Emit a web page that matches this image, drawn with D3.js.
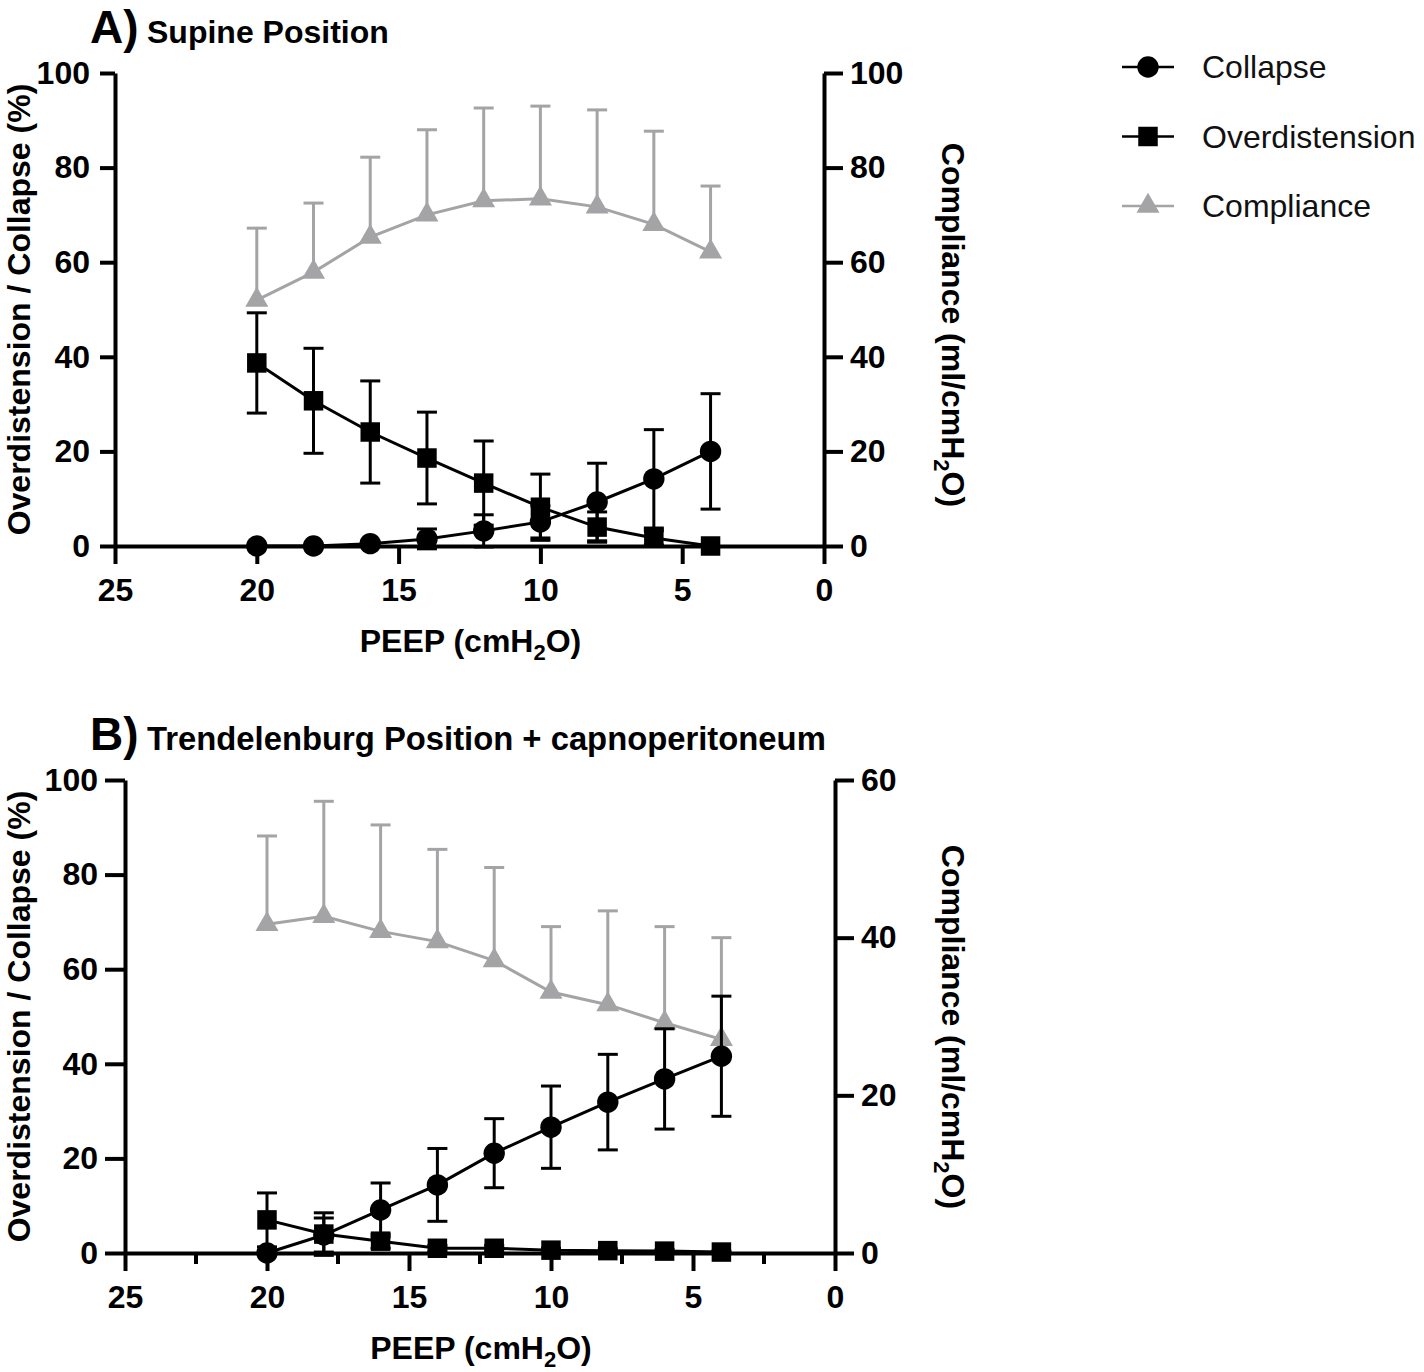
<!DOCTYPE html>
<html>
<head>
<meta charset="utf-8">
<script src="https://cdn.jsdelivr.net/npm/d3@7"></script>
<style>
  body { margin: 0; background: #fff; }
</style>
</head>
<body>
<svg id="chart" width="1424" height="1372"></svg>
<script>
// PEEP steps (cmH2O)
var peep = [20, 18, 16, 14, 12, 10, 8, 6, 4];

// Panel A - supine
var collapseA = [0, 0, 0.5, 1.5, 3.2, 5.1, 9.3, 14.2, 20.0];
var collapseSdA = [0, 0, 0.5, 2.1, 3.4, 3.4, 8.2, 10.4, 12.2];
var overA = [38.7, 30.7, 24.1, 18.6, 13.3, 8.2, 4.0, 1.7, 0];
var overSdA = [10.6, 11.1, 10.8, 9.7, 8.9, 7.0, 3.2, 1.5, 0];
var complA = [52.0, 57.9, 65.3, 70.0, 73.0, 73.4, 71.7, 68.0, 62.2];
var complSdA = [15.2, 14.6, 16.9, 18.0, 19.6, 19.6, 20.5, 19.7, 13.9];

// Panel B - Trendelenburg + capnoperitoneum
var collapseB = [0, 3.8, 9.1, 14.4, 21.1, 26.6, 31.9, 36.8, 41.6];
var collapseSdB = [0, 3.6, 5.7, 7.7, 7.3, 8.7, 10.1, 10.6, 12.7];
var overB = [7.0, 4.0, 2.5, 1.0, 1.0, 0.6, 0.5, 0.4, 0.2];
var overSdB = [5.7, 4.5, 1.5, 0.6, 0.6, 0.4, 0.4, 0.3, 0.2];
var complB = [41.7, 42.7, 40.8, 39.5, 37.1, 33.1, 31.5, 29.2, 27.1];
var complSdB = [11.2, 14.6, 13.5, 11.7, 11.8, 8.3, 11.9, 12.2, 12.9];

var xTicks = [25, 20, 15, 10, 5, 0];
var xMinorTicks = [22.5, 17.5, 12.5, 7.5, 2.5];
var leftTicks = [0, 20, 40, 60, 80, 100];
var rightTicksA = [0, 20, 40, 60, 80, 100];
var rightTicksB = [0, 20, 40, 60];

var seriesNames = ["Collapse", "Overdistension", "Compliance"];

var FONT = "'Liberation Sans', Arial, Helvetica, sans-serif";
var GRAY = "#a4a4a7";

var svg = d3.select("#chart")
  .style("font-family", FONT);

function styleAxis(sel) {
  sel.select(".domain").attr("stroke", "#000").attr("stroke-width", 4);
  sel.selectAll(".tick line").attr("stroke", "#000").attr("stroke-width", 4);
  sel.selectAll(".tick text")
    .attr("fill", "#000")
    .style("font-family", FONT)
    .style("font-size", "32px")
    .style("font-weight", "bold");
}

// text with a subscript "2" inside "cmH2O"
function addH2O(t, before) {
  t.append("tspan").text(before + "cmH");
  t.append("tspan").text("2").style("font-size", "22px").attr("dy", 8);
  t.append("tspan").text("O)").attr("dy", -8);
}

function drawPanel(o) {
  var g = svg.append("g");

  var x = d3.scaleLinear().domain([25, 0]).range(o.xr);
  var yL = d3.scaleLinear().domain([0, 100]).range(o.yr);
  var yR = d3.scaleLinear().domain([0, o.rMax]).range(o.yr);

  // minor x ticks (panel B only)
  if (o.minor) {
    g.append("g")
      .attr("transform", "translate(0," + o.yr[0] + ")")
      .selectAll("line")
      .data(xMinorTicks)
      .enter()
      .append("line")
      .attr("x1", d => x(d)).attr("x2", d => x(d))
      .attr("y1", 0).attr("y2", 11)
      .attr("stroke", "#000").attr("stroke-width", 4);
  }

  g.append("g")
    .attr("transform", "translate(0," + o.yr[0] + ")")
    .call(d3.axisBottom(x).tickValues(xTicks).tickSize(18).tickSizeOuter(0).tickPadding(14).tickFormat(d3.format("d")))
    .call(styleAxis);

  g.append("g")
    .attr("transform", "translate(" + o.xr[0] + ",0)")
    .call(d3.axisLeft(yL).tickValues(leftTicks).tickSize(o.lTick).tickSizeOuter(0).tickPadding(o.lPad))
    .call(styleAxis);

  g.append("g")
    .attr("transform", "translate(" + o.xr[1] + ",0)")
    .call(d3.axisRight(yR).tickValues(o.rTicks).tickSize(19).tickSizeOuter(0).tickPadding(7))
    .call(styleAxis);

  // titles
  g.append("text")
    .attr("x", 90).attr("y", o.titleY)
    .style("font-size", "46px").style("font-weight", "bold")
    .text(o.letter);
  g.append("text")
    .attr("x", 147).attr("y", o.titleY)
    .style("font-size", o.titleSize + "px").style("font-weight", "bold")
    .text(o.title);

  // axis titles
  g.append("text")
    .attr("transform", "translate(30," + (o.yr[0] + o.yr[1]) / 2 + ") rotate(-90)")
    .attr("text-anchor", "middle")
    .style("font-size", "32px").style("font-weight", "bold")
    .text("Overdistension / Collapse (%)");

  var rt = g.append("text")
    .attr("transform", "translate(942," + o.rTitleY + ") rotate(90)")
    .attr("text-anchor", "middle")
    .style("font-size", "32px").style("font-weight", "bold");
  addH2O(rt, "Compliance (ml/");

  var xt = g.append("text")
    .attr("x", (o.xr[0] + o.xr[1]) / 2 + 1).attr("y", o.xTitleY)
    .attr("text-anchor", "middle")
    .style("font-size", "32px").style("font-weight", "bold");
  addH2O(xt, "PEEP (");

  // series
  var series = [
    { vals: o.compl, sd: o.complSd, y: yR, color: GRAY, sym: d3.symbolTriangle, size: 230, both: false },
    { vals: o.over, sd: o.overSd, y: yL, color: "#000", sym: d3.symbolSquare, size: 380, both: true },
    { vals: o.collapse, sd: o.collapseSd, y: yL, color: "#000", sym: d3.symbolCircle, size: 360, both: true }
  ];

  series.forEach(function (s) {
    var pts = peep.map((p, i) => ({ p: p, v: s.vals[i], sd: s.sd[i] }));
    var sg = g.append("g");

    // error bars
    var eb = sg.selectAll(".eb").data(pts.filter(d => d.sd > 0)).enter().append("g");
    eb.append("line")
      .attr("x1", d => x(d.p)).attr("x2", d => x(d.p))
      .attr("y1", d => s.y(s.both ? d.v - d.sd : d.v))
      .attr("y2", d => s.y(d.v + d.sd))
      .attr("stroke", s.color).attr("stroke-width", 3);
    eb.append("line")
      .attr("x1", d => x(d.p) - 10).attr("x2", d => x(d.p) + 10)
      .attr("y1", d => s.y(d.v + d.sd)).attr("y2", d => s.y(d.v + d.sd))
      .attr("stroke", s.color).attr("stroke-width", 3);
    if (s.both) {
      eb.append("line")
        .attr("x1", d => x(d.p) - 10).attr("x2", d => x(d.p) + 10)
        .attr("y1", d => s.y(d.v - d.sd)).attr("y2", d => s.y(d.v - d.sd))
        .attr("stroke", s.color).attr("stroke-width", 3);
    }

    sg.append("path")
      .datum(pts)
      .attr("fill", "none")
      .attr("stroke", s.color)
      .attr("stroke-width", 3)
      .attr("d", d3.line().x(d => x(d.p)).y(d => s.y(d.v)));

    sg.selectAll(".pt").data(pts).enter().append("path")
      .attr("transform", d => "translate(" + x(d.p) + "," + s.y(d.v) + ")")
      .attr("d", d3.symbol().type(s.sym).size(s.size))
      .attr("fill", s.color);
  });
}

drawPanel({
  xr: [115, 824], yr: [546, 73], rMax: 100, rTicks: rightTicksA,
  lTick: 15, lPad: 10, minor: false,
  letter: "A)", title: "Supine Position", titleY: 43, titleSize: 32,
  rTitleY: 325, xTitleY: 652,
  collapse: collapseA, collapseSd: collapseSdA,
  over: overA, overSd: overSdA,
  compl: complA, complSd: complSdA
});

drawPanel({
  xr: [125, 835], yr: [1253, 780], rMax: 60, rTicks: rightTicksB,
  lTick: 20, lPad: 7, minor: true,
  letter: "B)", title: "Trendelenburg Position + capnoperitoneum", titleY: 750, titleSize: 32.8,
  rTitleY: 1027, xTitleY: 1359,
  collapse: collapseB, collapseSd: collapseSdB,
  over: overB, overSd: overSdB,
  compl: complB, complSd: complSdB
});

// legend
var legendSyms = [d3.symbolCircle, d3.symbolSquare, d3.symbolTriangle];
var legendColors = ["#000", "#000", GRAY];
var legendSizes = [360, 380, 230];
var lg = svg.append("g").attr("transform", "translate(1122,67)");
var item = lg.selectAll("g").data(seriesNames).enter().append("g")
  .attr("transform", (d, i) => "translate(0," + i * 69.5 + ")");
item.append("line")
  .attr("x1", 0).attr("x2", 52).attr("y1", 0).attr("y2", 0)
  .attr("stroke", (d, i) => legendColors[i]).attr("stroke-width", 2.5);
item.append("path")
  .attr("transform", "translate(26,0)")
  .attr("d", (d, i) => d3.symbol().type(legendSyms[i]).size(legendSizes[i])())
  .attr("fill", (d, i) => legendColors[i]);
item.append("text")
  .attr("x", 80).attr("y", 11)
  .style("font-size", "32px")
  .attr("fill", "#111")
  .text(d => d);
</script>
</body>
</html>
